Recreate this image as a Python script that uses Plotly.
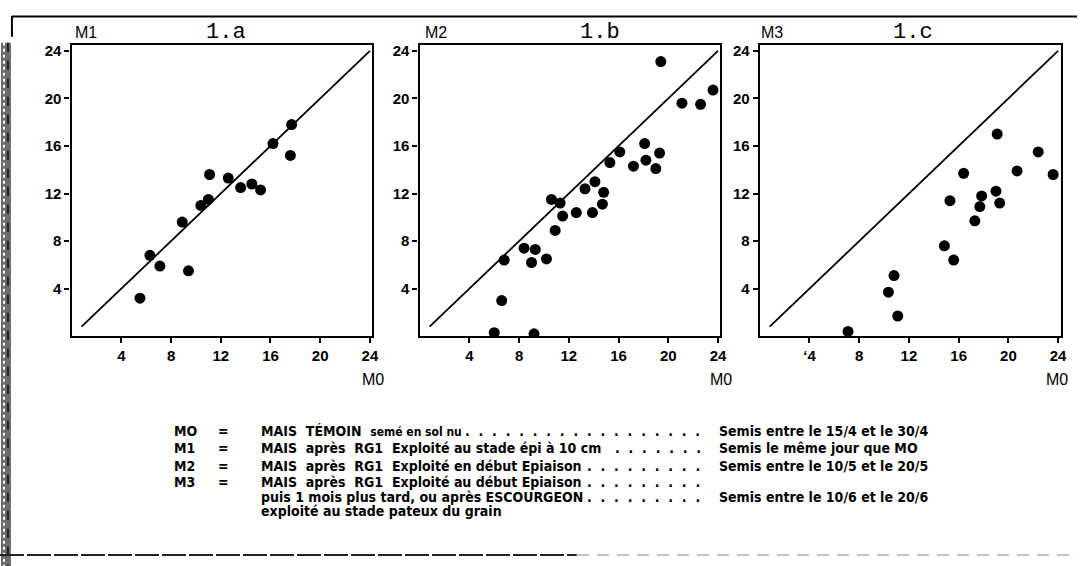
import plotly.graph_objects as go

W, H = 1083, 566

# ---- data (M0 on x, Mi on y) ----
p1_x = [5.5, 6.3, 7.1, 9.4, 8.9, 10.4, 11.0, 11.1, 12.6, 13.6, 14.5, 15.2, 16.2, 17.7, 17.6]
p1_y = [3.2, 6.8, 5.9, 5.5, 9.6, 11.0, 11.5, 13.6, 13.3, 12.5, 12.8, 12.3, 16.2, 17.8, 15.2]

p2_x = [19.4, 21.1, 22.6, 23.6, 18.1, 16.1, 15.3, 17.2, 18.2, 19.0, 19.3, 13.3, 14.1, 14.8, 14.7,
        13.9, 12.6, 11.3, 10.6, 11.5, 10.9, 8.4, 9.3, 9.0, 10.2, 6.8, 6.6, 6.0, 9.2]
p2_y = [23.1, 19.6, 19.5, 20.7, 16.2, 15.5, 14.6, 14.3, 14.8, 14.1, 15.4, 12.4, 13.0, 12.1, 11.1,
        10.4, 10.4, 11.2, 11.5, 10.1, 8.9, 7.4, 7.3, 6.2, 6.5, 6.4, 3.0, 0.3, 0.2]

p3_x = [7.1, 11.1, 10.35, 10.8, 14.85, 15.6, 15.3, 16.4, 17.3, 17.7, 17.85, 19.0, 19.3, 19.1, 20.7, 22.4, 23.6]
p3_y = [0.4, 1.7, 3.7, 5.1, 7.6, 6.4, 11.4, 13.7, 9.7, 10.9, 11.8, 12.2, 11.2, 17.0, 13.9, 15.5, 13.6]

diag = [0.8, 24.0]
tick_vals = [4, 8, 12, 16, 20, 24]
tick_text_ab = ["4", "8", "12", "16", "20", "24"]
tick_text_c = ["\u02bb4", "8", "12", "16", "20", "24"]

panel_titles = ["1.a", "1.b", "1.c"]
y_names = ["M1", "M2", "M3"]
x_name = "M0"

legend_codes = ["MO", "M1", "M2", "M3"]
legend_desc = [
    "MAIS  TÉMOIN  <span style='font-size:12px'>semé en sol nu</span>",
    "MAIS  après  RG1  Exploité au stade épi à 10 cm",
    "MAIS  après  RG1  Exploité en début Epiaison",
    "MAIS  après  RG1  Exploité au début Epiaison",
    "puis 1 mois plus tard, ou après ESCOURGEON",
    "exploité au stade pateux du grain",
]
legend_dots = [18, 7, 9, 9, 9, 0]
legend_right = ["Semis entre le 15/4 et le 30/4", "Semis le même jour que MO",
                "Semis entre le 10/5 et le 20/5", None, "Semis entre le 10/6 et le 20/6", None]

# ---- layout geometry (pixels) ----
px_domains = [(72, 374.5), (422, 724.5), (764, 1066.5)]
y_bot, y_top = 335, 42.7
XR = [0, 24.2]
YR = [0, 24.45]

def fx(x):
    return x / W

def fy(y):
    return 1 - y / H

fig = go.Figure()
panels = [(p1_x, p1_y), (p2_x, p2_y), (p3_x, p3_y)]
for i, (xs, ys) in enumerate(panels):
    suf = "" if i == 0 else str(i + 1)
    fig.add_trace(go.Scatter(x=diag, y=diag, mode="lines",
                             line=dict(color="black", width=1.8),
                             xaxis="x" + suf, yaxis="y" + suf, showlegend=False, hoverinfo="skip"))
    fig.add_trace(go.Scatter(x=xs, y=ys, mode="markers",
                             marker=dict(color="black", size=11, symbol="circle"),
                             xaxis="x" + suf, yaxis="y" + suf, showlegend=False))

tickfont = dict(family="Liberation Sans, Arial, sans-serif", size=15, color="black", weight="bold")
axis_common = dict(showline=True, linecolor="black", linewidth=2.4, mirror=True,
                   ticks="outside", ticklen=5, tickwidth=1.8, tickcolor="black",
                   showgrid=False, zeroline=False, tickfont=tickfont, fixedrange=True)
lay = {}
for i, (a, b) in enumerate(px_domains):
    suf = "" if i == 0 else str(i + 1)
    lay["xaxis" + suf] = dict(domain=[fx(a), fx(b)], range=XR, tickvals=tick_vals,
                              ticktext=tick_text_c if i == 2 else tick_text_ab,
                              anchor="y" + suf, **axis_common)
    lay["yaxis" + suf] = dict(domain=[fy(y_bot), fy(y_top)], range=YR, tickvals=tick_vals,
                              ticktext=tick_text_ab, anchor="x" + suf, **axis_common)

fig.update_layout(width=W, height=H, margin=dict(l=0, r=0, t=0, b=0),
                  paper_bgcolor="white", plot_bgcolor="white", **lay)

ann = []
lab_font = dict(family="Liberation Sans, Arial, sans-serif", size=16, color="black")
title_font = dict(family="Liberation Mono, Courier New, monospace", size=22, color="black")
title_x = [227, 603, 918]
ylab_x = [73, 425, 763]
xlab_x = [388, 738, 1076]
for i in range(3):
    ann.append(dict(x=fx(title_x[i]), y=fy(30), xref="paper", yref="paper", text=panel_titles[i],
                    showarrow=False, xanchor="center", yanchor="middle", font=title_font))
    ann.append(dict(x=fx(ylab_x[i]), y=fy(30), xref="paper", yref="paper", text=y_names[i],
                    showarrow=False, xanchor="left", yanchor="middle", font=lab_font))
    ann.append(dict(x=fx(xlab_x[i]), y=fy(379), xref="paper", yref="paper", text=x_name,
                    showarrow=False, xanchor="right", yanchor="middle", font=lab_font))

leg_font = dict(family="Liberation Sans Narrow, DejaVu Sans Condensed, Arial Narrow, sans-serif",
                size=14, color="black", weight="bold")
row_y = [430, 447.5, 465, 482, 497, 511]
NB = "\u00a0"
for r in range(6):
    if r < 4:
        ann.append(dict(x=fx(173), y=fy(row_y[r]), xref="paper", yref="paper", text=legend_codes[r],
                        showarrow=False, xanchor="left", yanchor="middle", font=leg_font))
        ann.append(dict(x=fx(225), y=fy(row_y[r]), xref="paper", yref="paper", text="=",
                        showarrow=False, xanchor="center", yanchor="middle", font=leg_font))
    ann.append(dict(x=fx(260), y=fy(row_y[r]), xref="paper", yref="paper",
                    text=legend_desc[r],
                    showarrow=False, xanchor="left", yanchor="middle", font=leg_font))
    if legend_dots[r]:
        dots = NB.join(["." + NB] * legend_dots[r])
        ann.append(dict(x=fx(711), y=fy(row_y[r]), xref="paper", yref="paper", text=dots,
                        showarrow=False, xanchor="right", yanchor="middle", font=leg_font))
    if legend_right[r]:
        ann.append(dict(x=fx(721), y=fy(row_y[r]), xref="paper", yref="paper", text=legend_right[r],
                        showarrow=False, xanchor="left", yanchor="middle", font=leg_font))

shapes = [
    dict(type="line", xref="paper", yref="paper", x0=fx(12), x1=1, y0=fy(13.5), y1=fy(13.5),
         line=dict(color="black", width=2)),
    dict(type="line", xref="paper", yref="paper", x0=fx(12), x1=fx(12), y0=fy(13), y1=fy(34),
         line=dict(color="black", width=2)),
    dict(type="rect", xref="paper", yref="paper", x0=fx(1), x1=fx(11), y0=fy(40), y1=fy(566),
         fillcolor="#6b6b6b", line=dict(width=0)),
    dict(type="line", xref="paper", yref="paper", x0=fx(4), x1=fx(4), y0=fy(40), y1=fy(566),
         line=dict(color="white", width=2, dash="dot")),
    dict(type="line", xref="paper", yref="paper", x0=fx(8), x1=fx(8), y0=fy(40), y1=fy(566),
         line=dict(color="#222222", width=2, dash="dash")),
    dict(type="line", xref="paper", yref="paper", x0=fx(0), x1=fx(580), y0=fy(555), y1=fy(555),
         line=dict(color="#222222", width=2, dash="24px,3px")),
    dict(type="line", xref="paper", yref="paper", x0=fx(580), x1=1, y0=fy(555), y1=fy(555),
         line=dict(color="#b0b0b0", width=1.5, dash="12px,8px")),
]
fig.update_layout(annotations=ann, shapes=shapes)

fig.write_html("out.html")
